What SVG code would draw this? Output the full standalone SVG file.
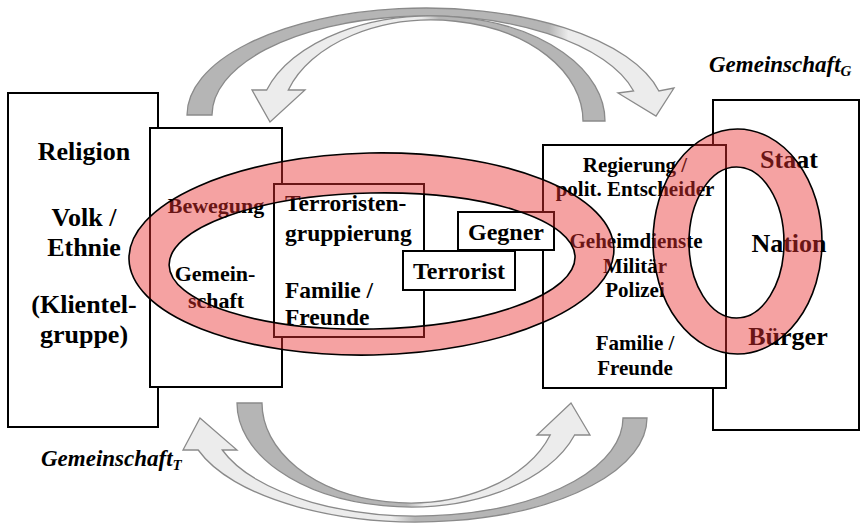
<svg xmlns="http://www.w3.org/2000/svg" width="862" height="523" viewBox="0 0 862 523">
<style>
.box{fill:#fff;stroke:#000;stroke-width:2}
.t{font-family:"Liberation Serif","Times New Roman",serif;font-weight:bold;fill:#000;text-anchor:middle}
.big{font-size:26px}
.mid{font-size:23.5px}
.sm{font-size:21px}
.sm2{font-size:22px}
.lbl{font-family:"Liberation Serif","Times New Roman",serif;font-weight:bold;font-style:italic;font-size:23px;fill:#000}
.arr{stroke:#8a8a8a;stroke-width:1.3}
.ring{fill:#e83030;fill-opacity:0.45;fill-rule:evenodd;stroke:#000;stroke-width:1.6}
</style>
<defs>
<linearGradient id="gA" gradientUnits="userSpaceOnUse" x1="187" y1="0" x2="676" y2="0">
<stop offset="0" stop-color="#b5b5b5"/><stop offset="0.74" stop-color="#b5b5b5"/><stop offset="0.78" stop-color="#ececec"/><stop offset="1" stop-color="#ececec"/>
</linearGradient>
<linearGradient id="gB" gradientUnits="userSpaceOnUse" x1="252" y1="0" x2="605" y2="0">
<stop offset="0" stop-color="#ececec"/><stop offset="0.48" stop-color="#ececec"/><stop offset="0.53" stop-color="#b5b5b5"/><stop offset="1" stop-color="#b5b5b5"/>
</linearGradient>
<linearGradient id="gC" gradientUnits="userSpaceOnUse" x1="237" y1="0" x2="590" y2="0">
<stop offset="0" stop-color="#b5b5b5"/><stop offset="0.48" stop-color="#b5b5b5"/><stop offset="0.53" stop-color="#ececec"/><stop offset="1" stop-color="#ececec"/>
</linearGradient>
<linearGradient id="gD" gradientUnits="userSpaceOnUse" x1="183" y1="0" x2="647" y2="0">
<stop offset="0" stop-color="#ececec"/><stop offset="0.45" stop-color="#ececec"/><stop offset="0.50" stop-color="#b5b5b5"/><stop offset="1" stop-color="#b5b5b5"/>
</linearGradient>
</defs>

<g id="connectors">
<path class="arr" fill="url(#gA)" d="M187,115 A239 107 0 0 1 658.9,91 L674,88 L656,116 L618,93 L633.6,91 A214 99 0 0 0 212,115 Z"/>
<path class="arr" fill="url(#gB)" d="M605,121 A173 105 0 0 0 266.7,90 L252,90 L270,122 L305,90 L288.3,90 A151 101 0 0 1 583,121 Z"/>
<path class="arr" fill="url(#gC)" d="M237,403 A173 104 0 0 0 574.6,435 L590,435 L571,403 L537,435 L550.2,435 A148 100 0 0 1 262,403 Z"/>
<path class="arr" fill="url(#gD)" d="M647,418 A230 104 0 0 1 198.2,450 L183,450 L200,418 L237,450 L222.3,450 A206 98 0 0 0 623,418 Z"/>
</g>

<g id="klientel">
<rect class="box" x="8" y="93" width="150" height="334"/>
<text class="t big" x="84" y="160">Religion</text>
<text class="t big" x="84" y="226">Volk /</text>
<text class="t big" x="84" y="256">Ethnie</text>
<text class="t big" x="84" y="313">(Klientel-</text>
<text class="t big" x="84" y="343">gruppe)</text>
</g>

<g id="staat">
<rect class="box" x="713" y="100" width="146" height="330"/>
<text class="t big" x="789" y="168">Staat</text>
<text class="t big" x="789" y="252">Nation</text>
<text class="t big" x="788" y="345">Bürger</text>
</g>

<g id="bewegung">
<rect class="box" x="150" y="128" width="132" height="259"/>
<text class="t sm2" x="216" y="213">Bewegung</text>
<text class="t sm2" x="215" y="281">Gemein-</text>
<text class="t sm2" x="216" y="308">schaft</text>
</g>

<g id="regierung">
<rect class="box" x="543" y="145" width="183" height="243"/>
<text class="t sm" x="635" y="172">Regierung /</text>
<text class="t sm" x="635" y="196">polit. Entscheider</text>
<text class="t sm" x="636" y="248">Geheimdienste</text>
<text class="t sm" x="635" y="273">Militär</text>
<text class="t sm" x="635" y="297">Polizei</text>
<text class="t sm" x="635" y="350">Familie /</text>
<text class="t sm" x="635" y="375">Freunde</text>
</g>

<g id="gruppierung">
<rect class="box" x="274" y="184" width="150" height="153"/>
<text class="t mid" x="285" y="211" style="text-anchor:start">Terroristen-</text>
<text class="t mid" x="285" y="241" style="text-anchor:start">gruppierung</text>
<text class="t mid" x="285" y="298" style="text-anchor:start">Familie /</text>
<text class="t mid" x="285" y="325" style="text-anchor:start">Freunde</text>
</g>

<g id="gegner">
<rect class="box" x="458" y="212" width="96" height="38"/>
<text class="t" style="font-size:24px" x="506" y="240">Gegner</text>
</g>

<g id="terrorist">
<rect class="box" x="403" y="251" width="112" height="39"/>
<text class="t" style="font-size:24px" x="459" y="279">Terrorist</text>
</g>

<g id="ring-terror" transform="rotate(-1.2 372 257)">
<path class="ring" d="M129,254 A242.5 101 0 1 0 614,254 A242.5 101 0 1 0 129,254 Z M169,261 A203 68 0 1 0 575,261 A203 68 0 1 0 169,261 Z"/>
</g>

<g id="ring-staat">
<path class="ring" d="M653,241.5 A84.5 112.5 0 1 0 822,241.5 A84.5 112.5 0 1 0 653,241.5 Z M689,242.5 A47.5 75.5 0 1 0 784,242.5 A47.5 75.5 0 1 0 689,242.5 Z"/>
</g>

<g id="labels">
<text class="lbl" x="709" y="72">Gemeinschaft<tspan font-size="15" dy="4">G</tspan></text>
<text class="lbl" x="41" y="466">Gemeinschaft<tspan font-size="15" dy="4">T</tspan></text>
</g>
</svg>
